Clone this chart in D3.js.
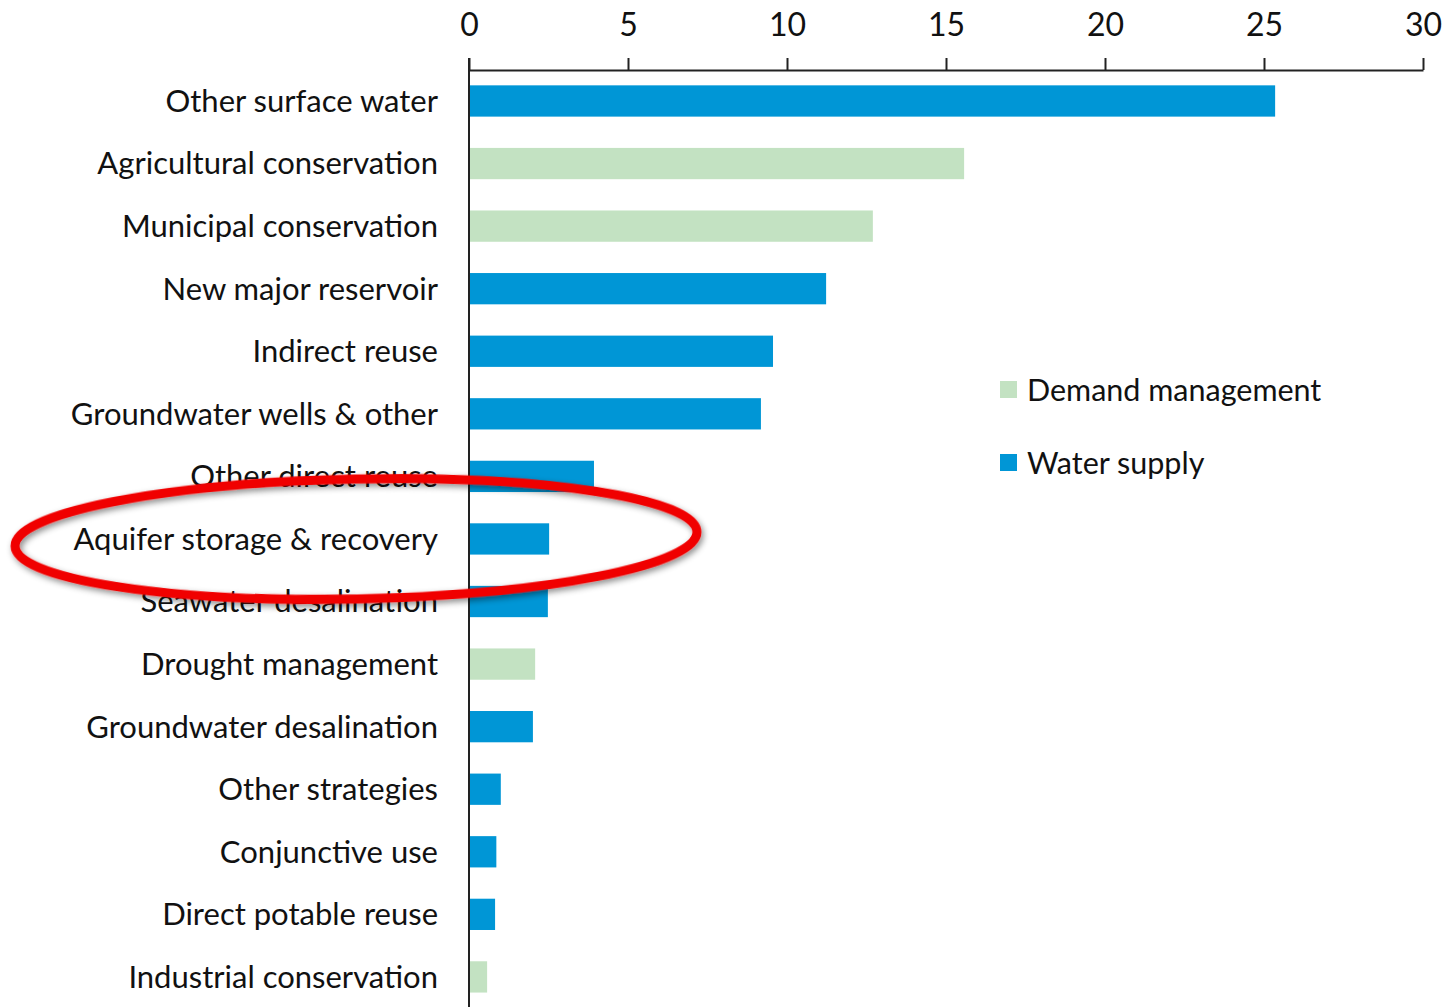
<!DOCTYPE html>
<html>
<head>
<meta charset="utf-8">
<script src="https://cdn.jsdelivr.net/npm/d3@7"></script>
<style>
  body { margin: 0; background: #fff; }
  svg text { font-family: "Lato", "Open Sans", sans-serif; fill: #111; }
</style>
</head>
<body>
<svg id="chartId" width="1455" height="1007"></svg>
<script>
const categories = [
  "Other surface water", "Agricultural conservation", "Municipal conservation",
  "New major reservoir", "Indirect reuse", "Groundwater wells & other",
  "Other direct reuse", "Aquifer storage & recovery", "Seawater desalination",
  "Drought management", "Groundwater desalination", "Other strategies",
  "Conjunctive use", "Direct potable reuse", "Industrial conservation"
];
const values = [25.35, 15.57, 12.7, 11.23, 9.56, 9.18, 3.93, 2.52, 2.48, 2.08, 2.01, 1.0, 0.86, 0.82, 0.57];
const groups = ["Water supply", "Demand management", "Demand management",
  "Water supply", "Water supply", "Water supply", "Water supply", "Water supply",
  "Water supply", "Demand management", "Water supply", "Water supply",
  "Water supply", "Water supply", "Demand management"];
const xTicks = [0, 5, 10, 15, 20, 25, 30];
const legendItems = ["Demand management", "Water supply"];

const data = categories.map((c, i) => ({ name: c, value: values[i], group: groups[i] }));

const svg = d3.select("#chartId");
const margin = { top: 70, left: 469, right: 32 };

const color = d3.scaleOrdinal()
  .domain(["Demand management", "Water supply"])
  .range(["#c3e2c2", "#0096d6"]);

const xScale = d3.scaleLinear().domain([0, 30]).range([margin.left, 1423]);
const yScale = d3.scaleBand().domain(categories).range([69.7, 1008.2]).paddingInner(0.5).paddingOuter(0.25);

// bars
svg.append("g").selectAll("rect")
  .data(data)
  .enter()
  .append("rect")
  .attr("x", xScale(0))
  .attr("y", d => yScale(d.name))
  .attr("width", d => xScale(d.value) - xScale(0))
  .attr("height", yScale.bandwidth())
  .attr("fill", d => color(d.group));

// top axis
const xAxis = d3.axisTop(xScale).tickValues(xTicks).tickSize(12).tickSizeOuter(0).tickPadding(22);
const xAxisG = svg.append("g").attr("transform", `translate(0, ${margin.top})`).call(xAxis);
xAxisG.select(".domain").attr("stroke", "#222").attr("stroke-width", 2);
xAxisG.selectAll(".tick line").attr("stroke", "#222").attr("stroke-width", 2);
xAxisG.selectAll(".tick text").attr("font-size", 32).attr("fill", "#111").attr("font-family", "Lato, sans-serif");

// vertical axis line
svg.append("line")
  .attr("x1", xScale(0)).attr("x2", xScale(0))
  .attr("y1", margin.top - 12).attr("y2", 1007)
  .attr("stroke", "#222").attr("stroke-width", 2);

// category labels
svg.append("g").selectAll("text")
  .data(data)
  .enter()
  .append("text")
  .attr("x", xScale(0) - 31)
  .attr("y", d => yScale(d.name) + yScale.bandwidth() / 2)
  .attr("dy", "0.35em")
  .attr("text-anchor", "end")
  .attr("font-size", 31)
  .text(d => d.name);

// legend
const legend = svg.append("g").attr("transform", "translate(1000, 390)");
legendItems.forEach((item, i) => {
  const row = legend.append("g").attr("transform", `translate(0, ${i * 73})`);
  row.append("rect").attr("x", 0).attr("y", -9).attr("width", 17).attr("height", 17).attr("fill", color(item));
  row.append("text").attr("x", 27).attr("y", 0).attr("dy", "0.35em").attr("font-size", 30.5).text(item);
});

// highlight ellipse
const defs = svg.append("defs");
const f = defs.append("filter").attr("id", "shadow").attr("x", "-10%").attr("y", "-30%").attr("width", "120%").attr("height", "160%");
f.append("feDropShadow").attr("dx", 2).attr("dy", 3).attr("stdDeviation", 3).attr("flood-color", "#000").attr("flood-opacity", 0.45);

const hy = yScale("Aquifer storage & recovery") + yScale.bandwidth() / 2;
svg.append("ellipse")
  .attr("cx", 356).attr("cy", hy)
  .attr("rx", 341).attr("ry", 60)
  .attr("transform", `rotate(-1.2, 356, ${hy})`)
  .attr("fill", "none")
  .attr("stroke", "#f00000")
  .attr("stroke-width", 9)
  .attr("filter", "url(#shadow)");
</script>
</body>
</html>
